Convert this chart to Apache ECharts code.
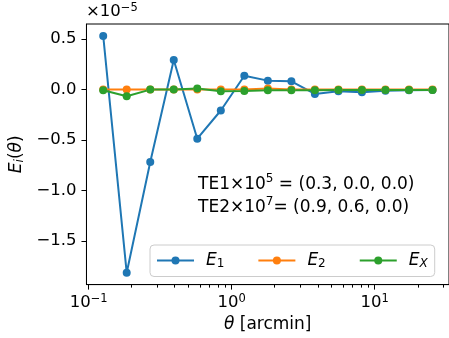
<!DOCTYPE html>
<html>
<head>
<meta charset="utf-8">
<script src="https://cdn.jsdelivr.net/npm/echarts@6/dist/echarts.min.js"></script>
<style>
html,body{margin:0;padding:0;background:#fff;}
#c{width:449px;height:338px;}
</style>
</head>
<body>
<div id="c"></div>
<script>
// theta bin centres [arcmin]
const theta = [0.1265, 0.1846, 0.2697, 0.3937, 0.5748, 0.8395, 1.2258, 1.7895, 2.6134, 3.8157, 5.5719, 8.1352, 11.88, 17.35, 25.33];
// values in units of 1e-5
const E1 = [0.533, -1.818, -0.718, 0.293, -0.487, -0.2075, 0.138, 0.089, 0.082, -0.043, -0.017, -0.027, -0.012, -0.006, -0.005];
const E2 = [0.0, 0.0, 0.0, 0.0, 0.0, 0.0, 0.0, 0.012, 0.0, 0.0, 0.0, 0.0, 0.0, 0.0, 0.0];
const EX = [-0.007, -0.066, 0.0, 0.0, 0.01, -0.017, -0.015, -0.007, -0.007, -0.007, -0.005, -0.005, -0.005, -0.004, -0.004];
const seriesNames = ['E1', 'E2', 'EX'];
const xMajorTicks = [0.1, 1, 10];
const xMinorTicks = [0.2,0.3,0.4,0.5,0.6,0.7,0.8,0.9,2,3,4,5,6,7,8,9,20,30];
const yTicks = [-1.5, -1.0, -0.5, 0.0, 0.5];

const FONT = 'DejaVu Sans';
const colors = ['#1f77b4', '#ff7f0e', '#2ca02c'];
const pairs = arr => theta.map((t, i) => [t, arr[i]]);

const chart = echarts.init(document.getElementById('c'), null, {renderer: 'canvas'});
const xMin = Math.pow(10, -1.015), xMax = Math.pow(10, 1.519);
const supMap = {'0.1': '−1', '1': '0', '10': '1'};

const legendRich = {
  i: {fontFamily: FONT, fontStyle: 'italic', fontSize: 17, color: '#000', padding: [0, 0, 0, 7]},
  s: {fontFamily: FONT, fontSize: 12, color: '#000', verticalAlign: 'bottom', padding: [6, 0, 0, 0]},
  si: {fontFamily: FONT, fontStyle: 'italic', fontSize: 12, color: '#000', verticalAlign: 'bottom', padding: [6, 0, 0, 0]}
};

const option = {
  animation: false,
  backgroundColor: '#fff',
  grid: {left: 84, right: -2, top: 24, bottom: 53, show: true, borderColor: '#000', borderWidth: 1, containLabel: false},
  xAxis: [{
    type: 'log', min: xMin, max: xMax, logBase: 10,
    axisLine: {show: true, onZero: false, lineStyle: {color: '#000', width: 1}},
    axisTick: {show: true, length: 5, lineStyle: {color: '#000'}, customValues: xMajorTicks},
    axisLabel: {
      customValues: xMajorTicks, margin: 8, color: '#000',
      formatter: v => '{b|10}{s|' + supMap[String(v)] + '}',
      rich: {
        b: {fontFamily: FONT, fontSize: 16.5, color: '#000', lineHeight: 20},
        s: {fontFamily: FONT, fontSize: 11.5, color: '#000', verticalAlign: 'top', lineHeight: 20}
      }
    },
    splitLine: {show: false}, minorTick: {show: false},
    name: '{i|θ}{n| [arcmin]}', nameLocation: 'middle', nameGap: 30,
    nameTextStyle: {rich: {
      i: {fontFamily: FONT, fontStyle: 'italic', fontSize: 17, color: '#000'},
      n: {fontFamily: FONT, fontSize: 17, color: '#000'}
    }}
  }, {
    type: 'log', min: xMin, max: xMax, logBase: 10, gridIndex: 0, position: 'bottom',
    axisLine: {show: false, onZero: false},
    axisTick: {show: true, length: 3, lineStyle: {color: '#000'}, customValues: xMinorTicks},
    axisLabel: {show: false},
    splitLine: {show: false}
  }],
  yAxis: {
    type: 'value', min: -1.935, max: 0.651,
    axisLine: {show: true, onZero: false, lineStyle: {color: '#000', width: 1}},
    axisTick: {show: true, length: 5, lineStyle: {color: '#000'}, customValues: yTicks},
    axisLabel: {
      customValues: yTicks, margin: 10, color: '#000', fontFamily: FONT, fontSize: 16.5,
      formatter: v => (v < 0 ? '−' : '') + Math.abs(v).toFixed(1)
    },
    splitLine: {show: false},
    name: '{i|E}{s|i}{n|(}{i|θ}{n|)}', nameLocation: 'middle', nameRotate: 90, nameGap: 58,
    nameTextStyle: {rich: {
      i: {fontFamily: FONT, fontStyle: 'italic', fontSize: 17, color: '#000'},
      s: {fontFamily: FONT, fontStyle: 'italic', fontSize: 12, color: '#000', verticalAlign: 'bottom', padding: [6,0,0,0]},
      n: {fontFamily: FONT, fontSize: 17, color: '#000'}
    }}
  },
  legend: {
    left: 150, top: 245, orient: 'horizontal',
    padding: [7, 7, 7, 6], itemGap: 33, itemWidth: 37, itemHeight: 10,
    borderColor: '#cccccc', borderWidth: 1, borderRadius: 4,
    backgroundColor: 'rgba(255,255,255,0.8)',
    data: seriesNames,
    formatter: n => n === 'E1' ? '{i|E}{s|1}' : n === 'E2' ? '{i|E}{s|2}' : '{i|E}{si|X}',
    textStyle: {rich: legendRich}
  },
  graphic: [{
    type: 'text', left: 86, top: 2,
    style: {
      text: '{b|×10}{s|−5}',
      rich: {
        b: {fontFamily: FONT, fontSize: 16.5, fill: '#000', lineHeight: 20},
        s: {fontFamily: FONT, fontSize: 11.5, fill: '#000', verticalAlign: 'top', lineHeight: 20}
      }
    }
  }, {
    type: 'text', left: 198, top: 173,
    style: {
      text: '{t|TE1×10}{s|5}{t| = (0.3, 0.0, 0.0)}\n{t|TE2×10}{s|7}{t|= (0.9, 0.6, 0.0)}',
      rich: {
        t: {fontFamily: FONT, fontSize: 17, fill: '#000', lineHeight: 23},
        s: {fontFamily: FONT, fontSize: 12, fill: '#000', verticalAlign: 'top', lineHeight: 23}
      }
    }
  }],
  series: [
    {name: 'E1', type: 'line', data: pairs(E1), symbol: 'circle', symbolSize: 8, showSymbol: true,
     itemStyle: {color: colors[0]}, lineStyle: {color: colors[0], width: 2}},
    {name: 'E2', type: 'line', data: pairs(E2), symbol: 'circle', symbolSize: 8, showSymbol: true,
     itemStyle: {color: colors[1]}, lineStyle: {color: colors[1], width: 2}},
    {name: 'EX', type: 'line', data: pairs(EX), symbol: 'circle', symbolSize: 8, showSymbol: true,
     itemStyle: {color: colors[2]}, lineStyle: {color: colors[2], width: 2}}
  ]
};
chart.setOption(option);
</script>
</body>
</html>
